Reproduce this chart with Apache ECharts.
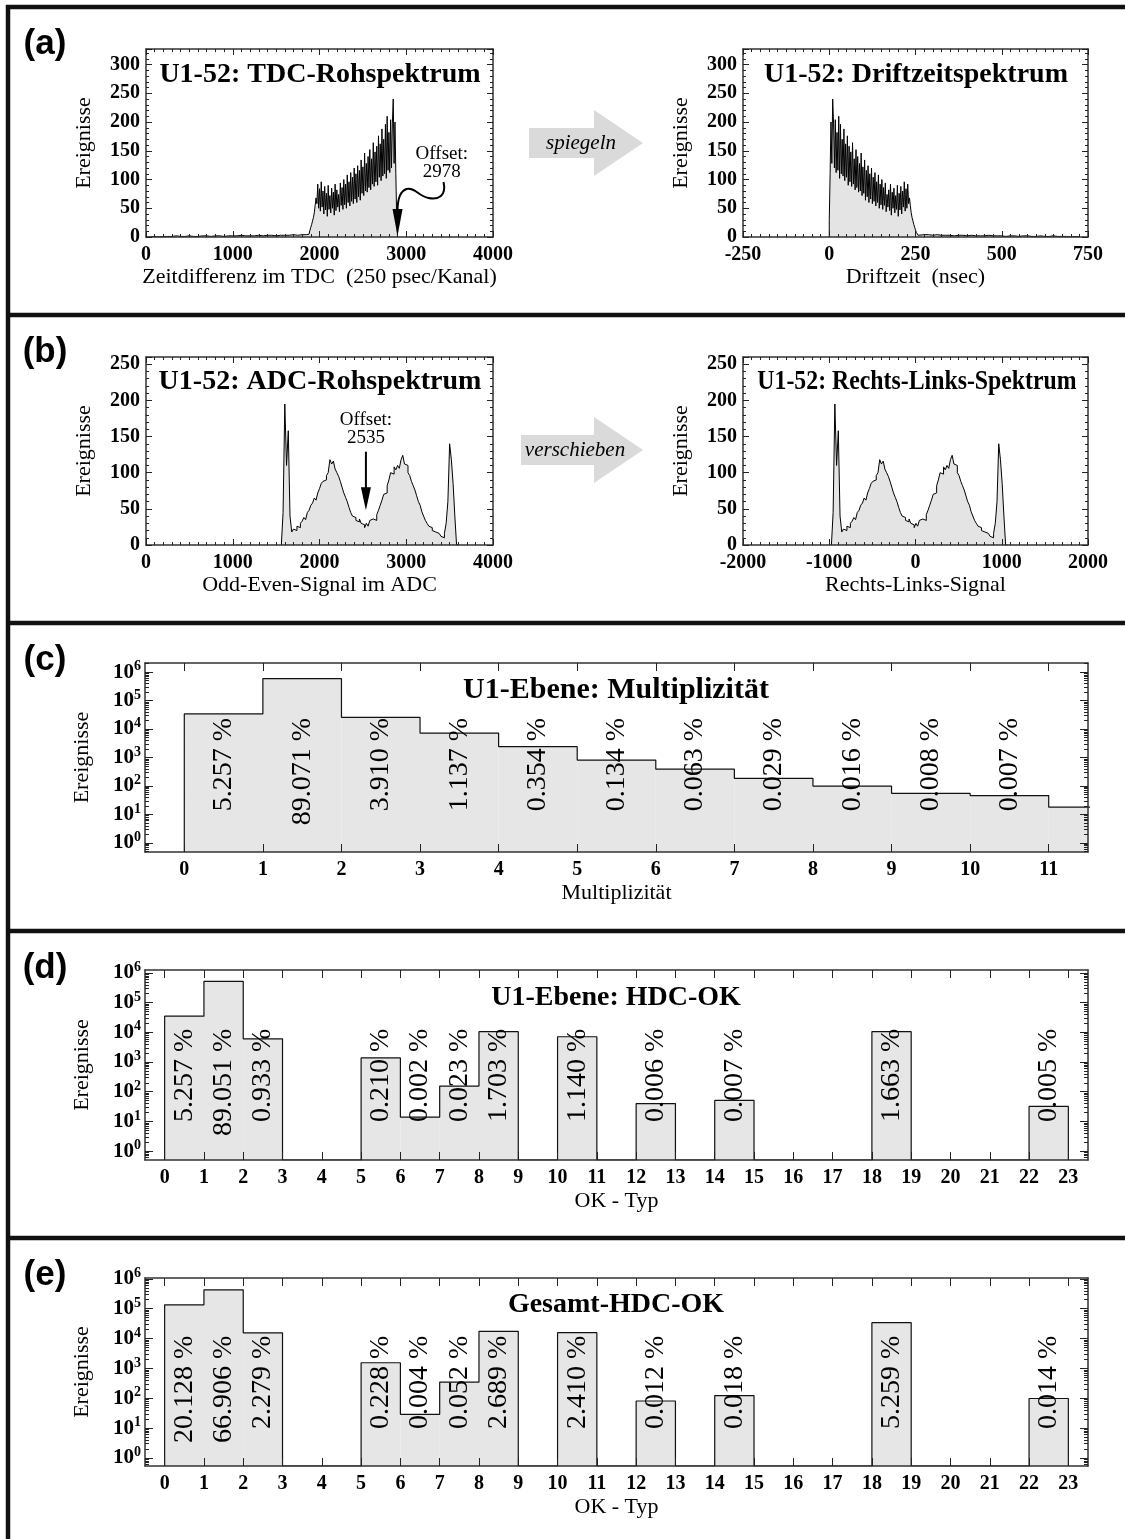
<!DOCTYPE html>
<html><head><meta charset="utf-8">
<script src="https://cdn.jsdelivr.net/npm/echarts@6/dist/echarts.min.js"></script>
<style>html,body{margin:0;padding:0;background:#fff}#c{width:1125px;height:1539px}</style>
</head><body><div id="c"></div>
<script>
// ================= DATA =================
// (a) TDC raw spectrum: background region (50-channel bins) and signal region (10-channel bins)
const tdcBgStart = 0, tdcBgBin = 50;
const tdcBgCounts = [0,1,0,1,1,1,2,1,1,2,1,1,2,2,1,2,2,1,2,2,2,3,2,2,2,3,2,3,3,2,3,3,3,4,3,4,4];
const tdcStart = 1850, tdcBin = 10;
const tdcCounts = [
  2,3,5,8,12,17,22,28,34,42,
  55,68,58,92,50,84,45,96,52,80,
  40,88,47,76,36,90,48,72,42,85,
  50,78,38,92,46,82,52,74,44,94,
  55,86,48,100,56,92,50,108,60,96,
  54,112,62,104,58,120,66,110,60,124,
  70,116,64,134,76,122,72,146,80,128,
  78,140,86,152,82,136,92,164,88,148,
  96,158,90,176,104,162,98,188,106,170,
  110,196,102,210,116,182,112,204,120,198,
  240,128,200,110,30];
const driftZeroChannel = 2900;   // channel mapped to drift time 0 ("spiegeln")
const nsPerChannel = 0.25;
const tdcOffsetText = 'Offset:\n2978';
const tdcArrowChannel = 2888;

// (b) ADC raw spectrum (20-unit bins)
const adcStart = 1560, adcBin = 20;
const adcCounts = [
  0,45,195,110,158,40,18,22,20,26,
  24,30,33,38,35,45,48,55,58,65,
  62,72,78,85,88,90,96,100,118,112,
  116,105,100,95,88,80,72,66,60,52,
  45,40,38,34,32,36,30,28,24,30,
  26,34,36,38,34,42,48,55,62,70,
  72,82,90,100,98,108,104,110,106,118,
  124,112,110,100,96,88,82,76,68,60,
  55,46,40,34,30,26,24,20,18,20,
  16,14,12,10,16,30,60,140,118,85,
  40,0];
const adcOffset = 2535;          // "verschieben"
const adcOffsetText = 'Offset:\n2535';

// (c) multiplicity
const multBins = [0,1,2,3,4,5,6,7,8,9,10,11];
const multCounts = [34000,590000,25700,7240,2400,815,390,185,99,55,46,18];
const multPctBins = [0,1,2,3,4,5,6,7,8,9,10];
const multPct = ['5.257 %','89.071 %','3.910 %','1.137 %','0.354 %','0.134 %','0.063 %','0.029 %','0.016 %','0.008 %','0.007 %'];
const multTicks = [0,1,2,3,4,5,6,7,8,9,10,11];

// (d) U1 HDC-OK
const okTypes = [0,1,2,3,4,5,6,7,8,9,10,11,12,13,14,15,16,17,18,19,20,21,22];
const hdcCounts = [35000,525000,6040,0,0,1380,14,155,10500,0,7100,0,40,0,51,0,0,0,10500,0,0,0,32];
const hdcPctTypes = [0,1,2,5,6,7,8,10,12,14,18,22];
const hdcPct = ['5.257 %','89.051 %','0.933 %','0.210 %','0.002 %','0.023 %','1.703 %','1.140 %','0.006 %','0.007 %','1.663 %','0.005 %'];

// (e) Gesamt HDC-OK
const gesCounts = [135000,430000,15600,0,0,1550,29,345,17500,0,15800,0,81,0,123,0,0,0,34000,0,0,0,98];
const gesPctTypes = [0,1,2,5,6,7,8,10,12,14,18,22];
const gesPct = ['20.128 %','66.906 %','2.279 %','0.228 %','0.004 %','0.052 %','2.689 %','2.410 %','0.012 %','0.018 %','5.259 %','0.014 %'];
const okTicks = [0,1,2,3,4,5,6,7,8,9,10,11,12,13,14,15,16,17,18,19,20,21,22,23];

const decades = [1,10,100,1000,10000,100000,1000000];

// ================= STYLE =================
const SERIF = "'Liberation Serif','Times New Roman',serif";
const AX = {color:'#333', width:1.5};
const TK = {color:'#222', width:1};
const TL = {fontFamily:SERIF, fontWeight:'bold', fontSize:20, color:'#000'};
const NM = {fontFamily:SERIF, fontSize:22, color:'#000'};
const FILL = '#e4e4e4';

const grids = [], xAxes = [], yAxes = [];

function linearPanel(box, xr, yr, xName) {
  const gi = grids.length;
  grids.push({left:box[0], top:box[1], width:box[2], height:box[3], show:false, containLabel:false, outerBoundsMode:'none'});
  const xi = xAxes.length, yi = yAxes.length;
  const xb = {gridIndex:gi, type:'value', min:xr[0], max:xr[1], interval:xr[2], z:5,
    axisLine:{show:true, onZero:false, lineStyle:AX},
    axisTick:{show:true, inside:true, length:6, lineStyle:TK},
    minorTick:{show:true, splitNumber:xr[3], length:3, lineStyle:TK},
    splitLine:{show:false}, minorSplitLine:{show:false}};
  xAxes.push(Object.assign({}, xb, {position:'bottom', axisLabel:Object.assign({}, TL, {margin:8, formatter:v => String(v)}),
    name:xName, nameLocation:'middle', nameGap:29, nameTextStyle:NM, nameMoveOverlap:false}));
  xAxes.push(Object.assign({}, xb, {position:'top', axisLabel:{show:false}}));
  const yb = {gridIndex:gi, type:'value', min:yr[0], max:yr[1], interval:yr[2], z:5,
    axisLine:{show:true, onZero:false, lineStyle:AX},
    axisTick:{show:true, inside:true, length:6, lineStyle:TK},
    minorTick:{show:true, splitNumber:yr[3], length:3, lineStyle:TK},
    splitLine:{show:false}, minorSplitLine:{show:false}};
  const step = yr[2];
  yAxes.push(Object.assign({}, yb, {position:'left',
    axisLabel:Object.assign({}, TL, {margin:6, formatter:v => (Math.abs(v % step) < 1e-9 ? String(v) : '')}),
    name:'Ereignisse', nameLocation:'middle', nameGap:51, nameRotate:90, nameTextStyle:NM, nameMoveOverlap:false}));
  yAxes.push(Object.assign({}, yb, {position:'right', axisLabel:{show:false}}));
  return {gi, xi, yi};
}

const minorDecades = [];
[-1,0,1,2,3,4,5,6].forEach(k => [2,3,4,5,6,7,8,9].forEach(m => minorDecades.push(m * Math.pow(10, k))));

function logPanel(box, xMax, yr, xName, ticks) {
  const gi = grids.length;
  grids.push({left:box[0], top:box[1], width:box[2], height:box[3], show:false, containLabel:false, outerBoundsMode:'none'});
  const xi = xAxes.length, yi = yAxes.length;
  const xb = {gridIndex:gi, type:'value', min:-0.5, max:xMax, z:5,
    axisLine:{show:true, onZero:false, lineStyle:AX},
    axisTick:{show:true, inside:true, length:8, lineStyle:TK, customValues:ticks},
    splitLine:{show:false}};
  xAxes.push(Object.assign({}, xb, {position:'bottom', axisLabel:Object.assign({}, TL, {margin:8, customValues:ticks, formatter:v => String(v)}),
    name:xName, nameLocation:'middle', nameGap:30, nameTextStyle:NM, nameMoveOverlap:false}));
  xAxes.push(Object.assign({}, xb, {position:'top', axisLabel:{show:false}}));
  const yb = {gridIndex:gi, type:'log', logBase:10, min:yr[0], max:yr[1], z:5, splitLine:{show:false}};
  const major = {show:true, inside:true, length:8, lineStyle:TK, customValues:decades};
  const minor = {show:true, inside:true, length:4, lineStyle:TK, customValues:minorDecades};
  yAxes.push(Object.assign({}, yb, {position:'left', axisLine:{show:true, onZero:false, lineStyle:AX}, axisTick:major,
    axisLabel:Object.assign({}, TL, {fontSize:21, margin:4, customValues:decades,
      formatter:v => '10{s|' + Math.round(Math.log10(v)) + '}',
      rich:{s:{fontFamily:SERIF, fontWeight:'bold', fontSize:14, color:'#000', padding:[0,0,11,0]}}}),
    name:'Ereignisse', nameLocation:'middle', nameGap:52, nameRotate:90, nameTextStyle:NM, nameMoveOverlap:false}));
  yAxes.push(Object.assign({}, yb, {position:'left', axisLine:{show:false, onZero:false}, axisTick:minor, axisLabel:{show:false}}));
  yAxes.push(Object.assign({}, yb, {position:'right', axisLine:{show:true, onZero:false, lineStyle:AX}, axisTick:major, axisLabel:{show:false}}));
  yAxes.push(Object.assign({}, yb, {position:'right', axisLine:{show:false, onZero:false}, axisTick:minor, axisLabel:{show:false}}));
  return {gi, xi, yi, yMin:yr[0]};
}

// ================= PANELS =================
const A1 = linearPanel([146, 49, 347, 188], [0, 4000, 1000, 10], [0, 327, 50, 5], 'Zeitdifferenz im TDC  (250 psec/Kanal)');
const A2 = linearPanel([743, 49, 345, 188], [-250, 750, 250, 10], [0, 327, 50, 5], 'Driftzeit  (nsec)');
const B1 = linearPanel([146, 357, 347, 188], [0, 4000, 1000, 10], [0, 260, 50, 5], 'Odd-Even-Signal im ADC');
const B2 = linearPanel([743, 357, 345, 188], [-2000, 2000, 1000, 10], [0, 260, 50, 5], 'Rechts-Links-Signal');
const C = logPanel([145, 663, 943, 189], 11.5, [0.4786, 2.09e6], 'Multiplizität', multTicks);
const D = logPanel([145, 970, 943, 190], 23.5, [0.501, 1.26e6], 'OK - Typ', okTicks);
const E = logPanel([145, 1278, 943, 188], 23.5, [0.537, 1.07e6], 'OK - Typ', okTicks);

// ================= HISTOGRAM HELPERS =================
function binsOf(start, bin, counts) {
  return counts.map((c, i) => ({lo: start + i * bin, hi: start + (i + 1) * bin, c}));
}
const tdcBinsAll = binsOf(tdcBgStart, tdcBgBin, tdcBgCounts).concat(binsOf(tdcStart, tdcBin, tdcCounts));
const adcBinsAll = binsOf(adcStart, adcBin, adcCounts);

function stepPoints(bins) {
  const b = bins.slice().sort((p, q) => p.lo - q.lo);
  const pts = [[b[0].lo, 0]];
  b.forEach(x => pts.push([x.lo, x.c]));
  pts.push([b[b.length - 1].hi, 0]);
  return pts;
}
function linHist(P, bins) {
  return {type:'line', xAxisIndex:P.xi, yAxisIndex:P.yi, step:'end', symbol:'none', silent:true, z:2,
    lineStyle:{color:'#000', width:1}, areaStyle:{color:FILL, opacity:1}, data:stepPoints(bins)};
}
const tdcDriftBins = tdcBinsAll.map(b => ({lo:(driftZeroChannel - b.hi) * nsPerChannel, hi:(driftZeroChannel - b.lo) * nsPerChannel, c:b.c}));
const adcShiftBins = adcBinsAll.map(b => ({lo:b.lo - adcOffset, hi:b.hi - adcOffset, c:b.c}));

function logFill(P, bins, counts) {
  const base = P.yMin;
  return {type:'custom', xAxisIndex:P.xi, yAxisIndex:P.yi, silent:true, z:1,
    data: bins.map((b, i) => [b, counts[i]]).filter(d => d[1] > 0),
    renderItem:(params, api) => {
      const x0 = api.value(0), v = api.value(1);
      const p1 = api.coord([x0, v]), p2 = api.coord([x0 + 1, base]);
      const cs = params.coordSys;
      const right = Math.min(p2[0], cs.x + cs.width);
      return {type:'rect', shape:{x:p1[0], y:p1[1], width:right - p1[0], height:p2[1] - p1[1]}, style:{fill:'#e6e6e6'}};
    }};
}
function logOutline(P, bins, counts) {
  const base = P.yMin;
  const pts = [[bins[0], base]];
  bins.forEach((b, i) => pts.push([b, counts[i] > 0 ? counts[i] : base]));
  pts.push([bins[bins.length - 1] + 1, base]);
  return {type:'line', xAxisIndex:P.xi, yAxisIndex:P.yi, step:'end', symbol:'none', silent:true, z:2,
    lineStyle:{color:'#111', width:1.2}, data:pts};
}
function pctLabels(P, bins, texts, anchor) {
  return {type:'custom', xAxisIndex:P.xi, yAxisIndex:P.yi, silent:true, z:4,
    data: bins.map(b => [b + 0.5, anchor]),
    renderItem:(params, api) => {
      const p = api.coord([api.value(0), api.value(1)]);
      return {type:'text', x:p[0], y:p[1], rotation:Math.PI / 2,
        style:{text:texts[params.dataIndex], fill:'#000', font:"28px 'Liberation Serif'", align:'right', verticalAlign:'middle'}};
    }};
}

// annotation (a): wavy arrow pointing at the end of the TDC spectrum
const tdcAnnot = {type:'custom', xAxisIndex:A1.xi, yAxisIndex:A1.yi, silent:true, z:6,
  data:[[tdcArrowChannel, 0]],
  renderItem:(params, api) => {
    const t = api.coord([api.value(0), api.value(1)]);
    const x = t[0], y = t[1];
    const txt = api.coord([3410, 128]);
    const d = 'M ' + (x+47) + ' ' + (y-55) + ' C ' + (x+50) + ' ' + (y-41) + ' ' + (x+42) + ' ' + (y-37) + ' ' + (x+32) + ' ' + (y-39) +
      ' C ' + (x+22) + ' ' + (y-41) + ' ' + (x+18) + ' ' + (y-50) + ' ' + (x+10) + ' ' + (y-48) +
      ' C ' + (x+4) + ' ' + (y-46) + ' ' + (x+1) + ' ' + (y-40) + ' ' + (x+1) + ' ' + (y-26);
    return {type:'group', children:[
      {type:'path', shape:{pathData:d}, style:{stroke:'#000', lineWidth:2, fill:'none'}},
      {type:'polygon', shape:{points:[[x-4, y-28], [x+6, y-28], [x+1, y-1]]}, style:{fill:'#000'}},
      {type:'text', x:txt[0], y:txt[1], style:{text:tdcOffsetText, fill:'#000', font:"19px 'Liberation Serif'", align:'center', verticalAlign:'middle', lineHeight:18}}
    ]};
  }};
// annotation (b): straight arrow at the ADC offset
const adcAnnot = {type:'custom', xAxisIndex:B1.xi, yAxisIndex:B1.yi, silent:true, z:6,
  data:[[adcOffset, 48]],
  renderItem:(params, api) => {
    const t = api.coord([api.value(0), api.value(1)]);
    const top = api.coord([api.value(0), 129]);
    const txt = api.coord([api.value(0), 160]);
    const x = t[0], y = t[1];
    return {type:'group', children:[
      {type:'line', shape:{x1:x, y1:top[1], x2:x, y2:y - 20}, style:{stroke:'#000', lineWidth:2}},
      {type:'polygon', shape:{points:[[x-5, y-23], [x+5, y-23], [x, y]]}, style:{fill:'#000'}},
      {type:'text', x:txt[0], y:txt[1], style:{text:adcOffsetText, fill:'#000', font:"19px 'Liberation Serif'", align:'center', verticalAlign:'middle', lineHeight:18}}
    ]};
  }};

// ================= DECORATION =================
function txt(x, y, text, font, extra) {
  return Object.assign({type:'text', x:x, y:y, silent:true, z:10,
    style:{text:text, font:font, fill:'#000', align:'center', verticalAlign:'middle', textAlign:'center', textVerticalAlign:'middle'}}, extra || {});
}
function hline(y) { return {type:'line', silent:true, z:10, shape:{x1:6, y1:y, x2:1125, y2:y}, style:{stroke:'#111', lineWidth:4.5}}; }
function grayArrow(x0, cy) {
  return {type:'polygon', silent:true, z:1, shape:{points:[[x0, cy-15], [594, cy-15], [594, cy-33], [643, cy], [594, cy+33], [594, cy+15], [x0, cy+15]]},
    style:{fill:'#dadada'}};
}
const TITLE = "bold 28px 'Liberation Serif'";
const PANEL = "bold 35px 'Liberation Sans Narrow','Liberation Sans',sans-serif";
const graphic = [
  {type:'line', silent:true, z:10, shape:{x1:8, y1:5, x2:8, y2:1539}, style:{stroke:'#111', lineWidth:4.5}},
  hline(7), hline(315), hline(623), hline(931), hline(1238),
  txt(45, 44, '(a)', PANEL), txt(45, 352, '(b)', PANEL), txt(45, 660, '(c)', PANEL), txt(45, 968, '(d)', PANEL), txt(45, 1275, '(e)', PANEL),
  grayArrow(529, 143), grayArrow(521, 450),
  txt(581, 143, 'spiegeln', "italic 21px 'Liberation Serif'"),
  txt(575, 450, 'verschieben', "italic 21px 'Liberation Serif'"),
  txt(320, 75, 'U1-52: TDC-Rohspektrum', TITLE),
  txt(916, 75, 'U1-52: Driftzeitspektrum', TITLE),
  txt(320, 382, 'U1-52: ADC-Rohspektrum', TITLE),
  txt(917, 382, 'U1-52: Rechts-Links-Spektrum', TITLE, {scaleX:0.85}),
  txt(616, 690, 'U1-Ebene: Multiplizität', "bold 30px 'Liberation Serif'"),
  txt(616, 998, 'U1-Ebene: HDC-OK', TITLE),
  txt(616, 1305, 'Gesamt-HDC-OK', TITLE)
];

// ================= CHART =================
const chart = echarts.init(document.getElementById('c'), null, {renderer:'canvas'});
chart.setOption({
  animation:false,
  backgroundColor:'#fff',
  grid:grids, xAxis:xAxes, yAxis:yAxes,
  graphic:graphic,
  series:[
    linHist(A1, tdcBinsAll),
    linHist(A2, tdcDriftBins),
    tdcAnnot,
    linHist(B1, adcBinsAll),
    linHist(B2, adcShiftBins),
    adcAnnot,
    logFill(C, multBins, multCounts), logOutline(C, multBins, multCounts), pctLabels(C, multPctBins, multPct, 24500),
    logFill(D, okTypes, hdcCounts), logOutline(D, okTypes, hdcCounts), pctLabels(D, hdcPctTypes, hdcPct, 13200),
    logFill(E, okTypes, gesCounts), logOutline(E, okTypes, gesCounts), pctLabels(E, gesPctTypes, gesPct, 12600)
  ]
});
</script>
</body></html>
